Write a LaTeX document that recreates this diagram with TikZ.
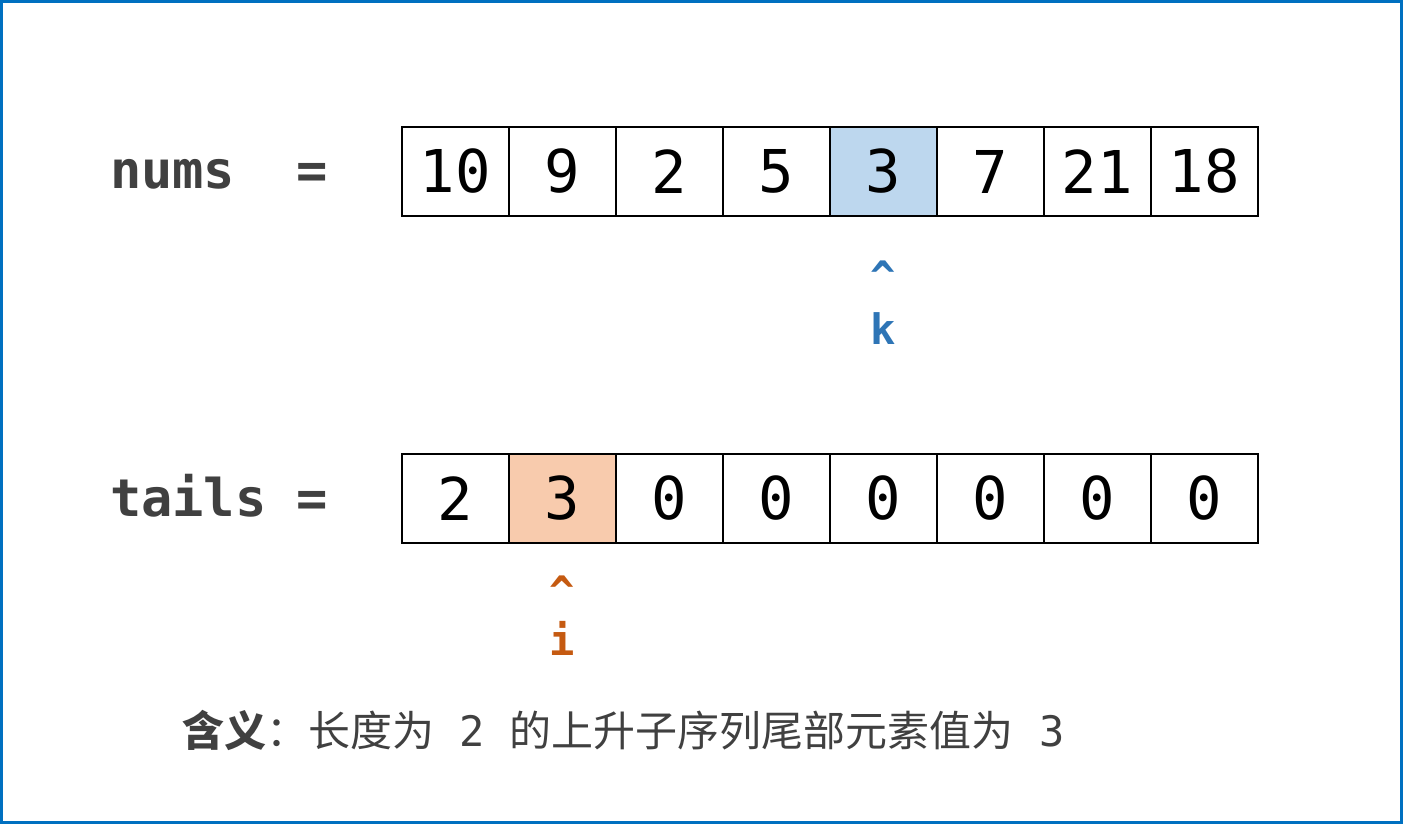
\documentclass[tikz,border=0pt]{standalone}
\usepackage{fontspec}
\setmonofont{DejaVu Sans Mono}
\newfontfamily\cjk{Noto Sans CJK SC}
\usetikzlibrary{positioning}
\definecolor{frameblue}{HTML}{0070C0}
\definecolor{kblue}{HTML}{2E75B6}
\definecolor{iorange}{HTML}{C55A11}
\definecolor{cellblue}{HTML}{BDD7EE}
\definecolor{cellorange}{HTML}{F8CBAD}
\definecolor{txtgray}{HTML}{404040}

\begin{document}
\begin{tikzpicture}[x=0.5pt, y=-0.5pt,
    cell/.style={draw, line width=0.8pt, minimum width=53.5pt, minimum height=44.5pt,
                 inner sep=0pt, outer sep=0pt, font=\fontsize{29.5}{29.5}\selectfont\ttfamily},
    arrname/.style={anchor=base west, text=txtgray, font=\fontsize{26}{26}\selectfont\ttfamily\bfseries},
    eqsign/.style={anchor=base, text=txtgray, font=\fontsize{26}{26}\selectfont\ttfamily\bfseries},
    ptr/.style={anchor=base, font=\fontsize{21}{21}\selectfont\ttfamily\bfseries},
  ]
    \useasboundingbox (0,0) rectangle (1403,824);
    \draw[frameblue, line width=1.5pt] (1.5,1.5) rectangle (1401.5,822.5);

    % array rows
    \node[arrname] (numsname) at (103,188) {nums};
    \node[eqsign]  (numseq)   at (312,188) {=};
    \foreach \v/\c [count=\i] in {10/white,9/white,2/white,5/white,3/cellblue,7/white,21/white,18/white}
      \node[cell, fill=\c] (n\i) at ({348.5+107*\i},171.5) {\v};

    \node[arrname] (tailsname) at (103,516) {tails};
    \node[eqsign]  (tailseq)   at (312,516) {=};
    \foreach \v/\c [count=\i] in {2/white,3/cellorange,0/white,0/white,0/white,0/white,0/white,0/white}
      \node[cell, fill=\c] (t\i) at ({348.5+107*\i},498.5) {\v};

    % pointers
    \node[ptr, text=kblue] (kcaret) at ([yshift=-37.5pt]n5.south) {\textasciicircum};
    \node[ptr, text=kblue] (klabel) at ([yshift=-26.5pt]kcaret.base) {k};
    \node[ptr, text=iorange] (icaret) at ([yshift=-31.5pt]t2.south) {\textasciicircum};
    \node[ptr, text=iorange] (ilabel) at ([yshift=-24.5pt]icaret.base) {i};

    \node[anchor=base west, text=txtgray, font=\fontsize{21}{21}\selectfont\cjk] (meaning) at (175,746)
      {\textbf{含义}：长度为{\ttfamily\ 2\ }的上升子序列尾部元素值为{\ttfamily\ 3}};
  \end{tikzpicture}
\end{document}
